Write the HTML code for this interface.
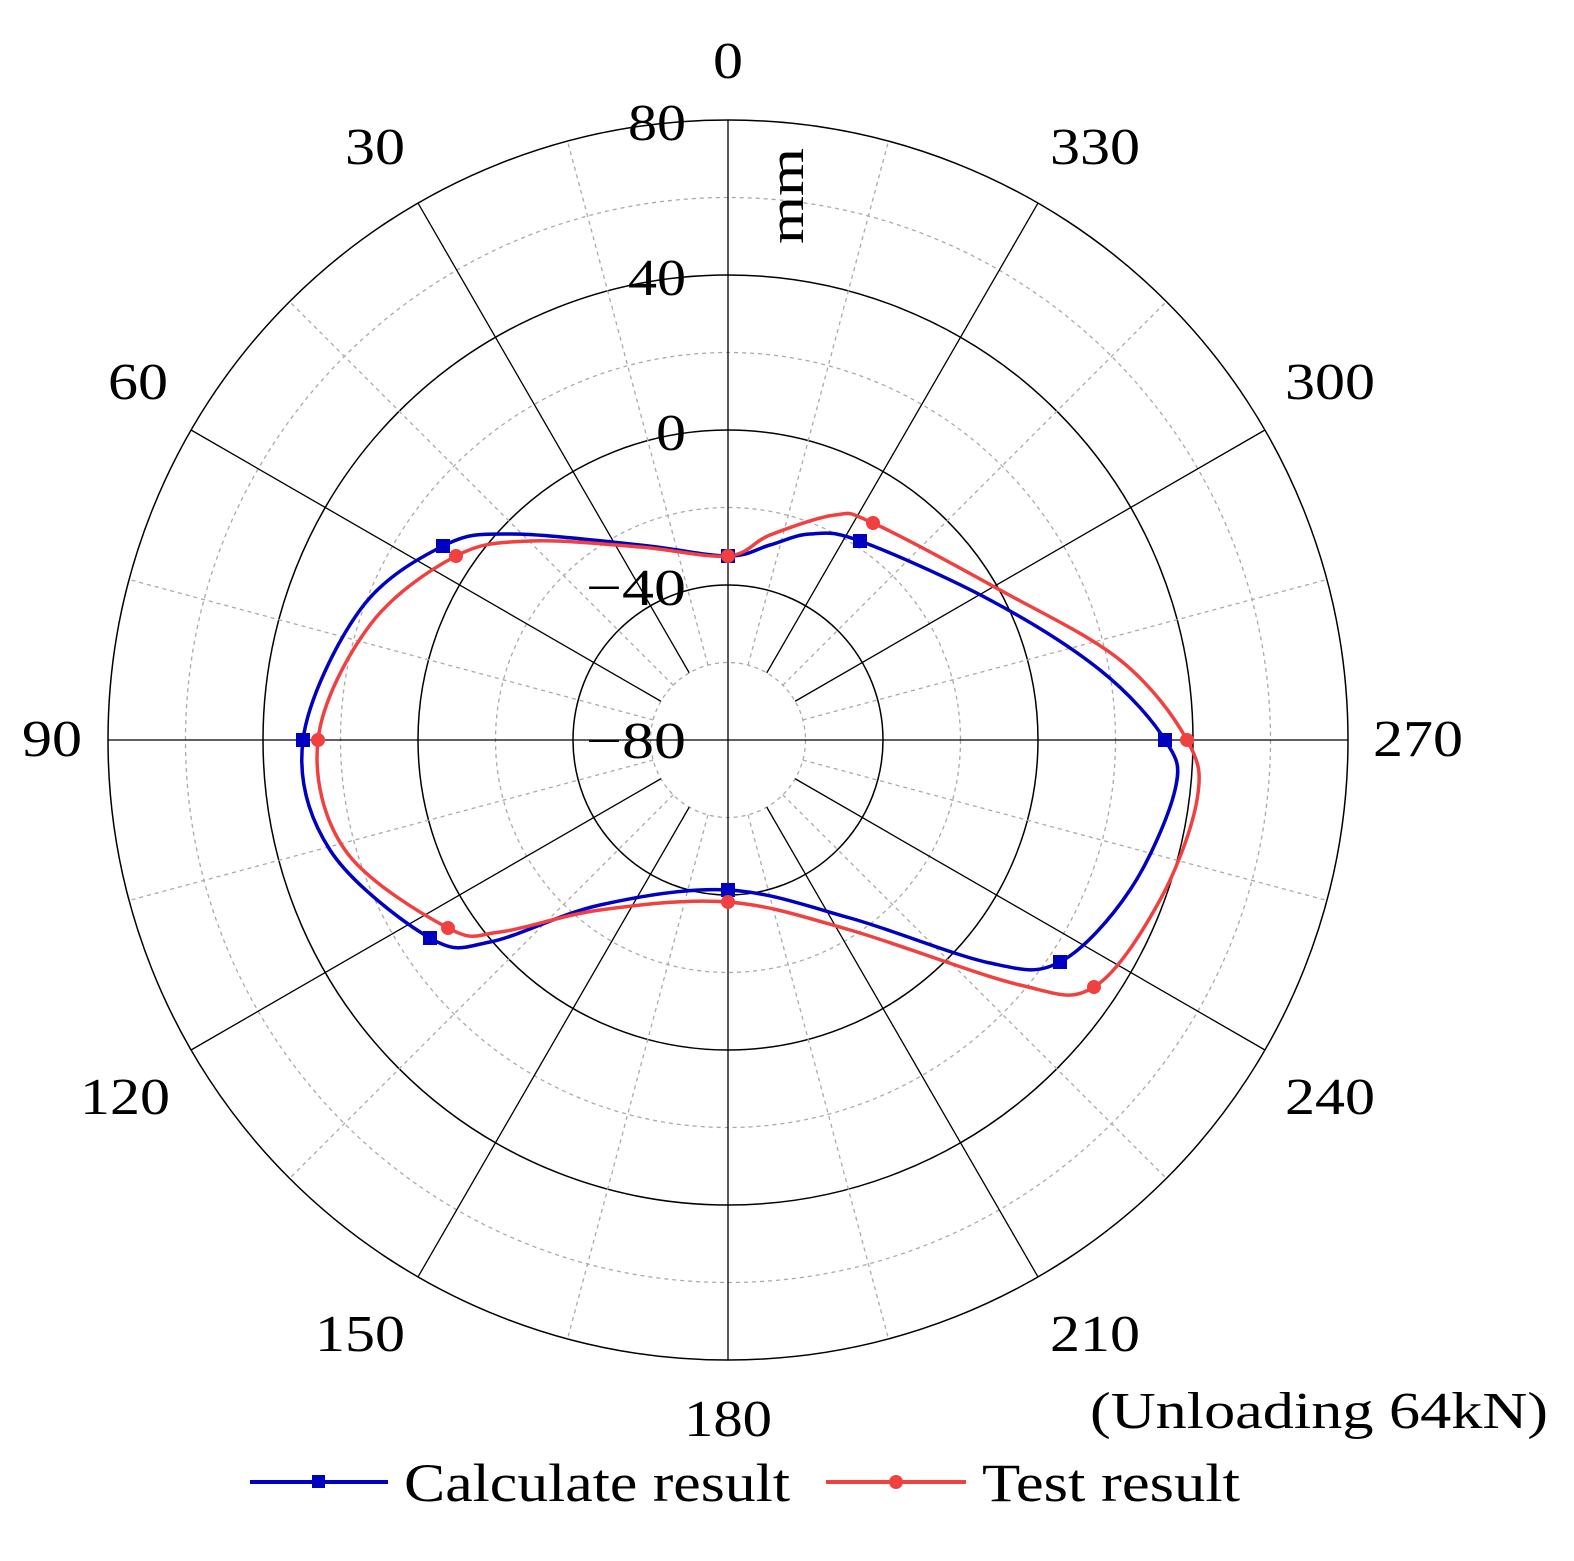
<!DOCTYPE html>
<html><head><meta charset="utf-8"><style>
html,body{margin:0;padding:0;background:#fff}
text{font-family:"Liberation Serif",serif;fill:#000}
</style></head><body>
<svg id="s" width="1574" height="1556" viewBox="0 0 1574 1556" xmlns="http://www.w3.org/2000/svg">
<g id="grid"></g>
<g font-size="52" text-anchor="middle" lengthAdjust="spacingAndGlyphs">
<text x="728" y="78" textLength="30" lengthAdjust="spacingAndGlyphs">0</text>
<text x="375" y="164" textLength="60" lengthAdjust="spacingAndGlyphs">30</text>
<text x="1095" y="164" textLength="90" lengthAdjust="spacingAndGlyphs">330</text>
<text x="138" y="399" textLength="60" lengthAdjust="spacingAndGlyphs">60</text>
<text x="1330" y="399" textLength="90" lengthAdjust="spacingAndGlyphs">300</text>
<text x="52" y="756" textLength="60" lengthAdjust="spacingAndGlyphs">90</text>
<text x="1418" y="756" textLength="90" lengthAdjust="spacingAndGlyphs">270</text>
<text x="125" y="1114" textLength="90" lengthAdjust="spacingAndGlyphs">120</text>
<text x="1330" y="1114" textLength="90" lengthAdjust="spacingAndGlyphs">240</text>
<text x="360" y="1351" textLength="90" lengthAdjust="spacingAndGlyphs">150</text>
<text x="1095" y="1351" textLength="90" lengthAdjust="spacingAndGlyphs">210</text>
<text x="728" y="1436" textLength="88" lengthAdjust="spacingAndGlyphs">180</text>
</g>
<g font-size="52" text-anchor="end">
<text x="686" y="140" textLength="58" lengthAdjust="spacingAndGlyphs">80</text>
<text x="686" y="295" textLength="58" lengthAdjust="spacingAndGlyphs">40</text>
<text x="686" y="450" textLength="30" lengthAdjust="spacingAndGlyphs">0</text>
<text x="686" y="605" textLength="100" lengthAdjust="spacingAndGlyphs">−40</text>
<text x="686" y="758" textLength="100" lengthAdjust="spacingAndGlyphs">−80</text>
</g>
<text font-size="50" transform="translate(803,196) rotate(-90)" text-anchor="middle" textLength="96" lengthAdjust="spacingAndGlyphs">mm</text>
<text font-size="52" x="1090" y="1428" textLength="458" lengthAdjust="spacingAndGlyphs">(Unloading 64kN)</text>
<line x1="250" y1="1482" x2="388" y2="1482" stroke="#0000c0" stroke-width="4"/>
<rect x="312" y="1475" width="13" height="13" fill="#0000c0"/>
<text font-size="54" x="404" y="1501" textLength="386" lengthAdjust="spacingAndGlyphs">Calculate result</text>
<line x1="826" y1="1482" x2="966" y2="1482" stroke="#f04040" stroke-width="4"/>
<circle cx="896" cy="1482" r="7" fill="#f04040"/>
<text font-size="54" x="982" y="1501" textLength="258" lengthAdjust="spacingAndGlyphs">Test result</text>
<g id="data"></g>
</svg>
<script>
const cx=728,cy=740,NS="http://www.w3.org/2000/svg";
const g=document.getElementById('grid');
function el(p,tag,a){const e=document.createElementNS(NS,tag);for(const k in a)e.setAttribute(k,a[k]);p.appendChild(e);return e;}
for(let i=1;i<=8;i++){const r=i*77.5;el(g,'circle',{cx,cy,r,fill:'none',stroke:i%2?'#aaa':'#000','stroke-width':i%2?1.3:1.5,'stroke-dasharray':i%2?'4 4':'none'});}
for(let a=0;a<360;a+=15){const t=a*Math.PI/180,s=Math.sin(t),c=Math.cos(t);
 const solid=a%30==0;const r0=(a%90==0)?0:77.5;
 el(g,'line',{x1:cx-r0*s,y1:cy-r0*c,x2:cx-620*s,y2:cy-620*c,stroke:solid?'#000':'#aaa','stroke-width':1.3,'stroke-dasharray':solid?'none':'4 4'});}
function spline(P){let d=`M${P[0][0]},${P[0][1]}`;const n=P.length;
 for(let i=0;i<n;i++){const p0=P[(i-1+n)%n],p1=P[i],p2=P[(i+1)%n],p3=P[(i+2)%n];
 d+=` C${p1[0]+(p2[0]-p0[0])/6},${p1[1]+(p2[1]-p0[1])/6} ${p2[0]-(p3[0]-p1[0])/6},${p2[1]-(p3[1]-p1[1])/6} ${p2[0]},${p2[1]}`;}
 return d+'Z';}
const D=document.getElementById('data');
const blue=[[728,556],[640,545],[510,534],[443,546],[360,610],[303,740],[330,850],[430,938],[490,942],[600,905],[728,890],[850,918],[990,963],[1060,962],[1130,890],[1175,790],[1165,740],[1100,670],[990,600],[860,541],[810,534],[770,545]];
const red=[[728,556],[640,547],[530,541],[456,556],[370,625],[318,740],[345,850],[448,928],[500,932],[600,910],[728,902],[850,930],[1020,985],[1094,987],[1160,900],[1197,800],[1187,740],[1120,660],[1000,590],[873,523],[835,515],[770,535]];
el(D,'path',{d:spline(blue),fill:'none',stroke:'#0000c0','stroke-width':3.5});
el(D,'path',{d:spline(red),fill:'none',stroke:'#f04040','stroke-width':3.5});
[[728,556],[443,546],[303,740],[430,938],[728,890],[1060,962],[1165,740],[860,541]].forEach(p=>el(D,'rect',{x:p[0]-7,y:p[1]-7,width:14,height:14,fill:'#0000c0'}));
[[728,556],[456,556],[318,740],[448,928],[728,902],[1094,987],[1187,740],[873,523]].forEach(p=>el(D,'circle',{cx:p[0],cy:p[1],r:7,fill:'#f04040'}));
</script>
</body></html>
